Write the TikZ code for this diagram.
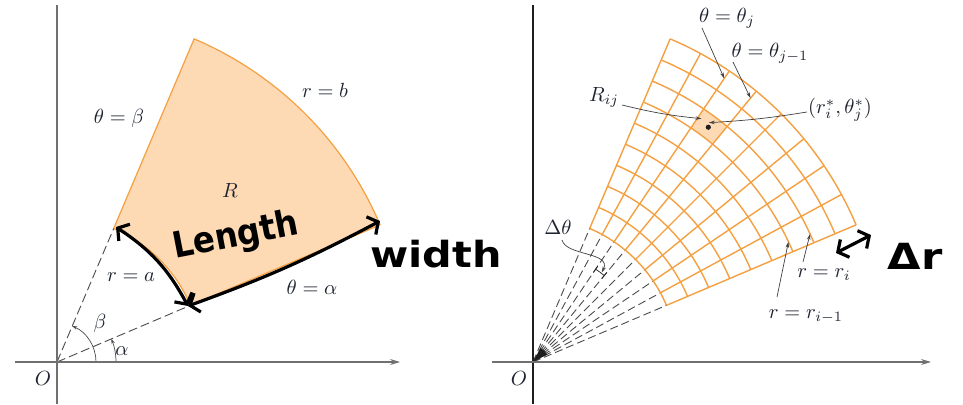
\documentclass[tikz,border=0pt]{standalone}
\usepackage{fontspec}
\newfontfamily\handfont{DejaVu Sans}
\usetikzlibrary{arrows.meta,positioning,calc}
\definecolor{regOrange}{HTML}{F4A041}
\definecolor{regFill}{HTML}{FDDAB4}
\definecolor{axisG}{HTML}{707070}
\definecolor{inkP}{HTML}{1E1E1E}
\definecolor{labInk}{HTML}{1F2430}
\tikzset{
  lab/.style={font=\normalsize, scale=2.05, text=labInk, inner sep=0.5pt},
  hand/.style={font=\handfont\bfseries\fontsize{36}{36}\selectfont, text=black, inner sep=0pt},
  axisline/.style={axisG, line width=1.2pt},
  axisarrow/.style={axisline, -{Stealth[length=10pt, width=6pt]}},
  region/.style={fill=regFill, draw=regOrange, line width=1.2pt},
  gridline/.style={regOrange, line width=1.4pt},
  raydash/.style={inkP!80, line width=0.9pt, dash pattern=on 9pt off 4pt},
  anglearc/.style={inkP!80, line width=0.7pt, -{Stealth[length=5pt, width=3.5pt]}},
  callout/.style={inkP!85, line width=0.7pt, -{Stealth[length=6pt, width=3.5pt]}},
  handarrow/.style={black, line width=3.2pt, line cap=round,
                    {Straight Barb[length=8pt, width=20pt]}-{Straight Barb[length=8pt, width=20pt]}},
}
\begin{document}
\begin{tikzpicture}[x=1pt, y=1pt]
  \useasboundingbox (0,0) rectangle (963,404);
  \coordinate (OL) at (57,42);
  \coordinate (OR) at (533,42);
  % left panel
  \begin{scope}[shift={(OL)}]
    \filldraw[region] (23:145) -- (23:351) arc[start angle=23, end angle=67, radius=351pt]
      -- (67:145) arc[start angle=67, end angle=23, radius=145pt] -- cycle;
    \draw[raydash] (0,0) -- (23:145);
    \draw[raydash] (0,0) -- (67:145);
    \draw[anglearc] (59,0) arc[start angle=0, end angle=23, radius=59pt];
    \draw[anglearc] (39,0) arc[start angle=0, end angle=67, radius=39pt];
  \end{scope}
  \draw[axisline] (57,0) -- (57,399);
  \draw[axisarrow] (15,42) -- (400,42);
  \node[lab] (oL) at (43,26) {$O$};
  \node[lab] (thb) at (119,286) {$\theta=\beta$};
  \node[lab] (rb) at (325,314) {$r=b$};
  \node[lab] (regR) at (230,214) {$R$};
  \node[lab] (ra) at (131,127) {$r=a$};
  \node[lab] (tha) at (312,117) {$\theta=\alpha$};
  \node[lab] (angB) at (100,81) {$\beta$};
  \node[lab] (angA) at (122,53) {$\alpha$};
  % right panel
  \begin{scope}[shift={(OR)}]
    \fill[regFill] (50.5:282.3) -- (50.5:305.2) arc[start angle=50.5, end angle=56, radius=305.2pt]
      -- (56:282.3) arc[start angle=56, end angle=50.5, radius=282.3pt] -- cycle;
    \foreach \k in {0,...,8} {
      \pgfmathsetmacro{\t}{23+5.5*\k}
      \draw[gridline] (\t:145) -- (\t:351);
      \draw[raydash, dash pattern=on 8pt off 4pt] (0,0) -- (\t:145);
    }
    \foreach \k in {0,...,9} {
      \pgfmathsetmacro{\r}{145+22.889*\k}
      \draw[gridline] (23:\r) arc[start angle=23, end angle=67, radius=\r pt];
    }
    \fill[inkP] (0,0) -- (28:16) arc[start angle=28, end angle=62, radius=16pt] -- cycle;
    \fill[inkP] (53.25:293) circle (2.6pt);
    % small angle bracket
    \draw[inkP, line width=0.7pt] (50.5:108) -- (50.5:116);
    \draw[inkP, line width=0.7pt] (50.5:112) arc[start angle=50.5, end angle=56, radius=112pt];
    \draw[inkP, line width=0.7pt] (56:108) -- (56:116);
    \coordinate (dtTip) at (52.5:113);
    \coordinate (thjTip) at (56:342);
    \coordinate (thjmTip) at (50.5:342);
    \coordinate (rijTip) at (55.3:296);
    \coordinate (starTip) at (53.7:297);
    \coordinate (riTip) at (24.8:305.2);
    \coordinate (rimTip) at (25.2:282.3);
  \end{scope}
  \draw[axisline, inkP] (533,0) -- (533,399);
  \draw[axisarrow] (492,42) -- (931,42);
  \node[lab] (oR) at (519,26) {$O$};
  \node[lab] (thj) at (727,386) {$\theta=\theta_j$};
  \node[lab] (thjm) at (770,351) {$\theta=\theta_{j-1}$};
  \node[lab] (rij) at (604,307) {$R_{ij}$};
  \node[lab] (star) at (840,294) {$(r_i^*,\theta_j^*)$};
  \node[lab] (ri) at (824,129) {$r=r_i$};
  \node[lab] (rim) at (806,88) {$r=r_{i-1}$};
  \node[lab] (dth) at (558,177) {$\Delta\theta$};
  \coordinate (thjS) at (702,376);
  \coordinate (thjmS) at (733,342);
  \coordinate (rijS) at (622,299);
  \coordinate (starS) at (807,292);
  \coordinate (riS) at (803,142);
  \coordinate (rimS) at (777,107);
  \coordinate (dthS) at (562,164);
  \draw[callout] (thjS) -- (thjTip);
  \draw[callout] (thjmS) -- (thjmTip);
  \draw[callout] (rijS) to[bend right=4] (rijTip);
  \draw[callout] (starS) to[bend left=3] (starTip);
  \draw[callout] (riS) -- (riTip);
  \draw[callout] (rimS) -- (rimTip);
  \draw[callout] (dthS) .. controls (566,148) and (612,152) .. (dtTip);
  % hand-written notes
  \coordinate (lenA) at (116,177);
  \coordinate (lenB) at (188,98);
  \coordinate (widB) at (380,183);
  \coordinate (drA) at (836,151);
  \coordinate (drB) at (871,169);
  \draw[handarrow] (lenA) to[bend left=14] (lenB);
  \draw[handarrow] (lenB) to[bend right=4] (widB);
  \draw[handarrow] (drA) -- (drB);
  \node[hand, rotate=11, xscale=0.9] (txtLen) at (236,167) {Length};
  \node[hand, anchor=base, xscale=1.15] (txtWid) at (436,136) {width};
  \node[hand, anchor=base, xscale=1.2] (txtDr) at (915,134) {Δr};
\end{tikzpicture}
\end{document}
